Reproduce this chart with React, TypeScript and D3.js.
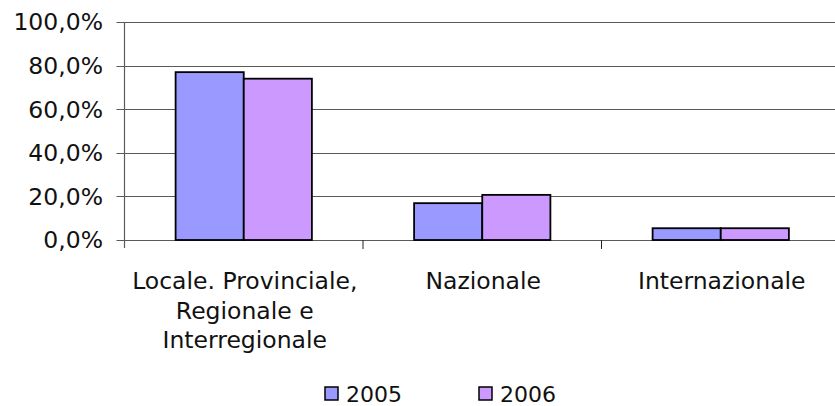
import React from "react"
import * as d3 from "d3"

// data
const categories = [
  ["Locale. Provinciale,", "Regionale e", "Interregionale"],
  ["Nazionale"],
  ["Internazionale"],
]
const series = ["2005", "2006"]
const values2005 = [0.77, 0.169, 0.054]
const values2006 = [0.74, 0.207, 0.054]
const yTicks = [0, 0.2, 0.4, 0.6, 0.8, 1.0]
const colors = ["#9999FF", "#CC99FF"]

const width = 835
const height = 406
const plot = { left: 124.5, right: 840, top: 22, bottom: 240 }
const font = "'DejaVu Sans', Verdana, sans-serif"
const fs = 23.5

const fmt = (v: number) => (v * 100).toFixed(1).replace(".", ",") + "%"

export default function App() {
  const x = d3.scaleBand<number>()
    .domain(categories.map((_, i) => i))
    .range([plot.left, plot.right])
    .padding(0)
  const y = d3.scaleLinear().domain([0, 1]).range([plot.bottom, plot.top])

  const step = x.step()
  // Excel style: gap width 150% of a bar
  const barW = step / (series.length + 1.5)
  const inner = d3.scaleBand<number>()
    .domain(series.map((_, i) => i))
    .range([0, barW * series.length])

  const allValues = [values2005, values2006]

  return (
    <svg width={width} height={height}
      style={{ position: "absolute", left: 0, top: 0, background: "#fff" }}>
      {/* grid lines */}
      {yTicks.map(t => (
        <line key={"g" + t} x1={plot.left - 8} x2={plot.right}
          y1={Math.round(y(t)) + 0.5} y2={Math.round(y(t)) + 0.5}
          stroke="#5a5a5a" strokeWidth={1} />
      ))}
      {yTicks.map(t => (
        <text key={"t" + t} x={103} y={y(t)} dy="0.36em" textAnchor="end"
          fontFamily={font} fontSize={fs} fill="#111">{fmt(t)}</text>
      ))}

      {/* bars */}
      {categories.map((_, ci) => {
        const x0 = (x(ci) as number) + (step - barW * series.length) / 2
        return allValues.map((vals, si) => (
          <rect key={ci + "-" + si}
            x={x0 + (inner(si) as number)} y={y(vals[ci])}
            width={inner.bandwidth()} height={y(0) - y(vals[ci])}
            fill={colors[si]} stroke="#000" strokeWidth={1.8} />
        ))
      })}

      {/* value axis */}
      <line x1={plot.left} x2={plot.left} y1={plot.top} y2={plot.bottom + 8}
        stroke="#5a5a5a" strokeWidth={1.2} />
      {/* category ticks */}
      {categories.map((_, ci) => (
        <line key={"ct" + ci} x1={(x(ci) as number) + step} x2={(x(ci) as number) + step}
          y1={plot.bottom} y2={plot.bottom + 9} stroke="#222" strokeWidth={1} />
      ))}

      {/* category labels */}
      {categories.map((lines, ci) => (
        <text key={"cl" + ci} textAnchor="middle" fontFamily={font} fontSize={fs} fill="#111">
          {lines.map((l, li) => (
            <tspan key={li} x={(x(ci) as number) + step / 2 + 1} y={289 + li * 29.5}>{l}</tspan>
          ))}
        </text>
      ))}

      {/* legend */}
      {series.map((s, si) => (
        <g key={"lg" + s} transform={`translate(${325 + si * 154},387)`}>
          <rect x={0} y={0} width={13} height={13} fill={colors[si]} stroke="#000" strokeWidth={1.5} />
          <text x={21} y={15} fontFamily={font} fontSize={22} fill="#111">{s}</text>
        </g>
      ))}
    </svg>
  )
}
